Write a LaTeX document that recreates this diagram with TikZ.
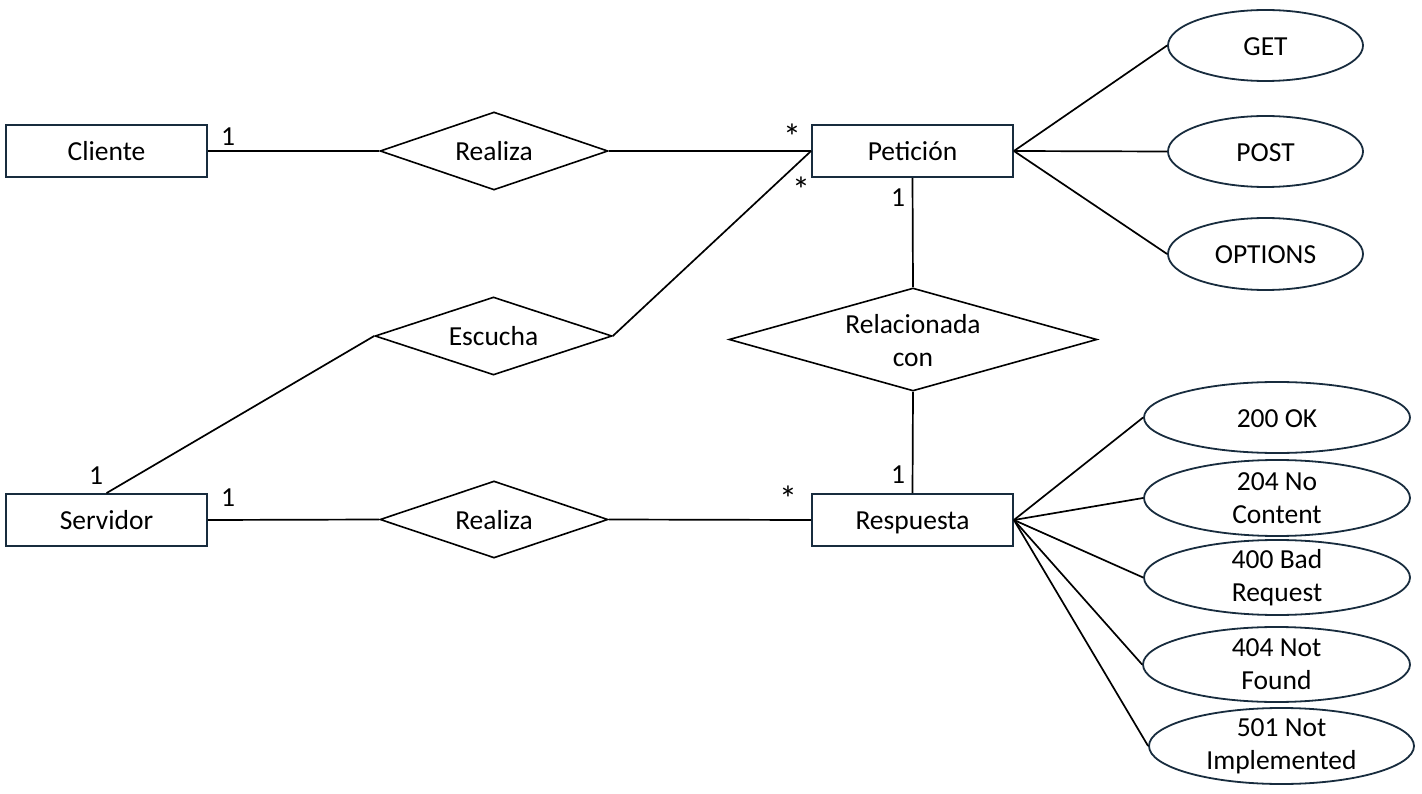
\documentclass[tikz,border=0pt]{standalone}
\usepackage{fontspec}
\setmainfont{Carlito}
\usetikzlibrary{shapes.geometric}
\definecolor{outline}{RGB}{24,44,62}
\begin{document}
\begin{tikzpicture}[x=1pt,y=-1pt,
  font=\fontsize{27.5}{33}\selectfont,
  entity/.style={draw=outline, line width=1.8pt, rectangle, inner sep=0pt,
    minimum width=201pt, minimum height=52pt, text height=19.5pt, text depth=0pt},
  relation/.style={draw=black, line width=1.6pt, diamond, inner sep=0pt},
  attr/.style={draw=outline, line width=1.8pt, ellipse, inner sep=0pt},
  oneline/.style={text height=19.5pt, text depth=0pt, inner sep=0pt},
  twoline/.style={align=center, inner sep=0pt},
  link/.style={line width=1.7pt},
  card/.style={inner sep=0pt},
  many/.style={inner sep=0pt, font=\fontsize{36}{36}\selectfont,
    text height=0pt, text depth=0pt}]
\useasboundingbox (0,0) rectangle (1422,794);

% entities
\node[entity] (cli) at (106.5,151) {Cliente};
\node[entity] (pet) at (912.5,151) {Petición};
\node[entity] (ser) at (106.5,520) {Servidor};
\node[entity] (res) at (912.5,520) {Respuesta};

% relationships
\node[relation, minimum width=228pt, minimum height=78pt,
  label={[oneline]center:Realiza}] (rea1) at (494,151) {};
\node[relation, minimum width=237pt, minimum height=78pt,
  label={[oneline]center:Escucha}] (esc) at (493.5,336) {};
\node[relation, minimum width=228pt, minimum height=77pt,
  label={[oneline]center:Realiza}] (rea2) at (494,519.5) {};
\node[relation, minimum width=368pt, minimum height=103pt,
  label={[twoline, yshift=-1.5pt]center:Relacionada\\con}] (rel) at (913,339.5) {};

% request methods
\node[attr, minimum width=195pt, minimum height=71pt,
  label={[oneline]center:GET}] (get) at (1265.5,45.5) {};
\node[attr, minimum width=195pt, minimum height=71pt,
  label={[oneline]center:POST}] (post) at (1265.5,151.5) {};
\node[attr, minimum width=195pt, minimum height=72pt,
  label={[oneline]center:OPTIONS}] (opt) at (1265.5,254) {};

% response codes
\node[attr, minimum width=266pt, minimum height=71pt,
  label={[oneline]center:200 OK}] (c200) at (1277,417.5) {};
\node[attr, minimum width=266pt, minimum height=76pt,
  label={[twoline]center:204 No\\Content}] (c204) at (1277,498) {};
\node[attr, minimum width=266pt, minimum height=75pt,
  label={[twoline]center:400 Bad\\Request}] (c400) at (1277,577.5) {};
\node[attr, minimum width=267pt, minimum height=75pt,
  label={[twoline]center:404 Not\\Found}] (c404) at (1276.5,664.5) {};
\node[attr, minimum width=265pt, minimum height=76pt,
  label={[twoline]center:501 Not\\Implemented}] (c501) at (1281.5,746) {};

% connectors
\draw[link] (cli.east) -- (rea1.west);
\draw[link] (rea1.east) -- (pet.west);
\draw[link] (esc.east) -- (pet.west);
\draw[link] (esc.west) -- (ser.north);
\draw[link] (ser.east) -- (rea2.west);
\draw[link] (rea2.east) -- (res.west);
\draw[link] (pet.south) -- (rel.north);
\draw[link] (rel.south) -- (res.north);
\foreach \m in {get,post,opt} \draw[link] (pet.east) -- (\m.west);
\foreach \c in {c200,c204,c400,c404,c501} \draw[link] (res.east) -- (\c.west);

% cardinalities
\node[card] (k1) at (228,137) {1};
\node[many] (k2) at (792,149.5) {*};
\node[many] (k3) at (801,202.5) {*};
\node[card] (k4) at (898,198) {1};
\node[card] (k5) at (96,476) {1};
\node[card] (k6) at (228,498) {1};
\node[many] (k7) at (788,511.5) {*};
\node[card] (k8) at (898,475) {1};
\end{tikzpicture}
\end{document}
